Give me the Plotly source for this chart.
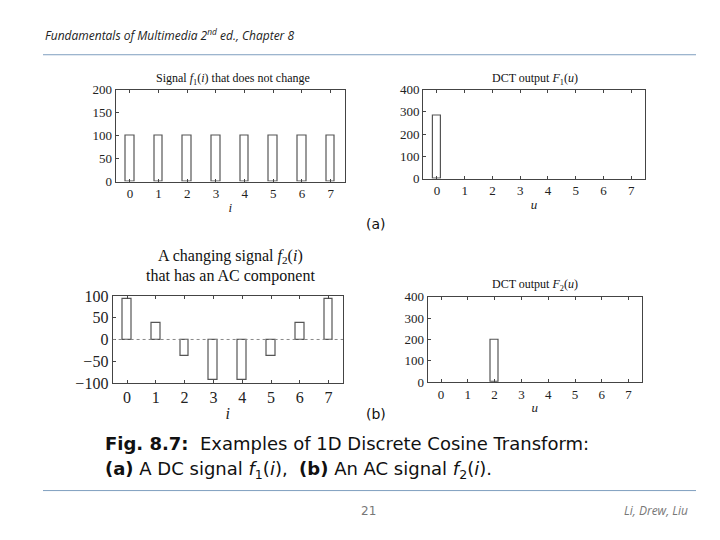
import plotly.graph_objects as go

IDX = [0, 1, 2, 3, 4, 5, 6, 7]
F1_SIGNAL = [100, 100, 100, 100, 100, 100, 100, 100]
F1_DCT = [283, 0, 0, 0, 0, 0, 0, 0]
F2_SIGNAL = [92, 38, -38, -92, -92, -38, 38, 92]
F2_DCT = [0, 0, 200, 0, 0, 0, 0, 0]

W, H = 720, 540
SERIF = 'Liberation Serif'
SANS = 'DejaVu Sans'


def px_x(a, b):
    return [a / W, b / W]


def px_y(bottom, top):
    return [1 - bottom / H, 1 - top / H]


# (name, values, x-domain px, y-domain px, y-range, tick values, x label)
panels = [
    ('', F1_SIGNAL, (107.6, 337), (171, 76), [0, 200], [0, 50, 100, 150, 200], 'i'),
    ('2', F1_DCT, (415, 637), (168, 76), [0, 400], [0, 100, 200, 300, 400], 'u'),
    ('3', F2_SIGNAL, (104.6, 335), (379, 289), [-100, 100], [-100, -50, 0, 50, 100], 'i'),
    ('4', F2_DCT, (419.6, 634), (378, 290), [0, 400], [0, 100, 200, 300, 400], 'u'),
]

fig = go.Figure()
for n, vals, xd, yd, yr, tv, lab in panels:
    # zero-valued coefficients draw nothing in the original
    shown = [v if v != 0 else None for v in vals]
    fig.add_trace(go.Bar(
        x=IDX, y=shown, width=0.3, xaxis='x' + n, yaxis='y' + n,
        marker=dict(color='white', line=dict(color='#555555', width=1.2)),
        showlegend=False,
    ))
    big = n == '3'
    fs = 16 if big else 13
    fig.layout['xaxis' + n] = dict(
        domain=px_x(*xd), range=[-0.5, 7.5], anchor='y' + n,
        tickvals=IDX, showline=True, mirror='ticks', linecolor='#444444',
        ticks='inside', ticklen=3, showgrid=False, zeroline=False,
        tickfont=dict(family=SERIF, size=fs, color='#222222'),
        title=dict(text='<i>%s</i>' % lab, standoff=2,
                   font=dict(family=SERIF, size=fs, color='#222222')),
    )
    fig.layout['yaxis' + n] = dict(
        domain=px_y(*yd), range=yr, anchor='x' + n, tickvals=tv,
        ticktext=[str(v).replace('-', '\u2212') for v in tv],
        showline=True, mirror=True, linecolor='#444444',
        ticks='inside', ticklen=3, showgrid=False, zeroline=False,
        tickfont=dict(family=SERIF, size=fs, color='#222222'),
    )

fig.add_shape(type='line', xref='x3', yref='y3', x0=-0.5, x1=7.5, y0=0, y1=0,
              line=dict(color='#888888', width=1, dash='dot'))

ann = [
    (225, 65, 'Signal <i>f</i><sub>1</sub>(<i>i</i>) that does not change', SERIF, 12, 'center', '#111111'),
    (527, 65, 'DCT output <i>F</i><sub>1</sub>(<i>u</i>)', SERIF, 12, 'center', '#111111'),
    (222, 248, 'A changing signal <i>f</i><sub>2</sub>(<i>i</i>)', SERIF, 16, 'center', '#111111'),
    (222, 268, 'that has an AC component', SERIF, 16, 'center', '#111111'),
    (527, 278, 'DCT output <i>F</i><sub>2</sub>(<i>u</i>)', SERIF, 12, 'center', '#111111'),
    (368, 215, '(a)', SANS, 14, 'center', '#111111'),
    (368, 411, '(b)', SANS, 14, 'center', '#111111'),
    (95, 441, '<b>Fig. 8.7:</b>  Examples of 1D Discrete Cosine Transform:', SANS, 18, 'left', '#111111'),
    (95, 469, '<b>(a)</b> A DC signal <i>f</i><sub>1</sub>(<i>i</i>),  <b>(b)</b> An AC signal <i>f</i><sub>2</sub>(<i>i</i>).', SANS, 18, 'left', '#111111'),
    (35, 20, '<i>Fundamentals of Multimedia 2<sup>nd</sup> ed., Chapter 8</i>', 'Open Sans', 12, 'left', '#222222'),
    (360, 511, '21', SANS, 12, 'center', '#777777'),
    (682, 511, '<i>Li, Drew, Liu</i>', 'Open Sans', 12, 'right', '#777777'),
]
for x, y, t, fam, sz, al, col in ann:
    fig.add_annotation(
        x=x / W, y=1 - y / H, xref='paper', yref='paper', text=t,
        showarrow=False, xanchor=al, yanchor='middle',
        font=dict(family=fam, size=sz, color=col),
    )

fig.add_shape(type='line', xref='paper', yref='paper', x0=35 / W, x1=688 / W,
              y0=1 - 40 / H, y1=1 - 40 / H, line=dict(color='#7f9fbf', width=1))
fig.add_shape(type='line', xref='paper', yref='paper', x0=35 / W, x1=688 / W,
              y0=1 - 490 / H, y1=1 - 490 / H, line=dict(color='#7f9fbf', width=1))

fig.update_layout(
    width=W, height=H, margin=dict(l=0, r=0, t=0, b=0),
    paper_bgcolor='white', plot_bgcolor='white', bargap=0,
)

fig.write_html('out.html')
